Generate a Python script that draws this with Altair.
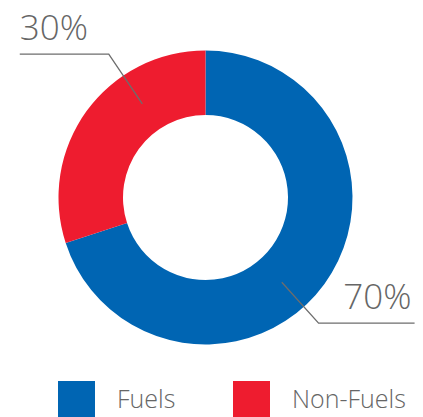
import math
import altair as alt
import pandas as pd

# ---- data ----
categories = ["Fuels", "Non-Fuels"]
shares = [70, 30]
label_texts = ["70%", "30%"]
colors = ["#0065b3", "#ee1c2f"]

# ---- layout constants (pixels, plot-area coordinates) ----
W, H = 407, 409
CX, CY = 197.5, 189.5
R_IN, R_OUT = 82.5, 147
# leader line geometry per label: angle (deg, clockwise from top), r start, r elbow, horizontal run
leader = {
    "70%": dict(angle=138.0, r0=114, r1=169, dx=96, align="right"),
    "30%": dict(angle=326.0, r0=113, r1=173, dx=-89, align="left"),
}

df = pd.DataFrame({"category": categories, "share": shares, "order": list(range(len(categories)))})

rows, trows = [], []
for lab in label_texts:
    g = leader[lab]
    a = math.radians(g["angle"])
    x0, y0 = CX + g["r0"] * math.sin(a), CY - g["r0"] * math.cos(a)
    x1, y1 = CX + g["r1"] * math.sin(a), CY - g["r1"] * math.cos(a)
    x2, y2 = x1 + g["dx"], y1
    for i, (px, py) in enumerate([(x0, y0), (x1, y1), (x2, y2)]):
        rows.append({"label": lab, "step": i, "px": px, "py": py})
    tx = x2 + (-3 if g["align"] == "right" else 0)
    trows.append({"label": lab, "px": tx, "py": y1 - 14, "align": g["align"]})

lines_df = pd.DataFrame(rows)
text_df = pd.DataFrame(trows)

X = alt.X("px:Q", scale=None, axis=None)
Y = alt.Y("py:Q", scale=None, axis=None)

arc = alt.Chart(df).mark_arc(innerRadius=R_IN, outerRadius=R_OUT).encode(
    theta=alt.Theta("share:Q", stack=True),
    color=alt.Color(
        "category:N",
        scale=alt.Scale(domain=categories, range=colors),
        legend=alt.Legend(
            orient="none",
            legendX=50,
            legendY=373,
            direction="horizontal",
            title=None,
            symbolType="square",
            symbolSize=37 * 37,
            symbolStrokeWidth=0,
            symbolOpacity=1,
            labelFont="Open Sans",
            labelFontSize=25,
            labelFontWeight=300,
            labelColor="#666666",
            labelOffset=22,
            columnPadding=57,
            labelLimit=300,
        ),
    ),
    order=alt.Order("order:Q"),
    x=alt.value(CX),
    y=alt.value(CY),
)

lines = alt.Chart(lines_df).mark_line(color="#6d6d6d", strokeWidth=1.3).encode(
    x=X, y=Y, detail="label:N", order="step:Q",
)

t_left = alt.Chart(text_df[text_df["align"] == "left"]).mark_text(
    align="left", baseline="alphabetic", font="Open Sans", fontSize=35, fontWeight=300, color="#666666"
).encode(x=X, y=Y, text="label:N")

t_right = alt.Chart(text_df[text_df["align"] == "right"]).mark_text(
    align="right", baseline="alphabetic", font="Open Sans", fontSize=35, fontWeight=300, color="#666666"
).encode(x=X, y=Y, text="label:N")

chart = (
    alt.layer(arc, lines, t_left, t_right)
    .properties(width=W, height=H, autosize=alt.AutoSizeParams(type="none"), padding=0,
                background="white")
    .configure_view(stroke="transparent", strokeWidth=0)
)

chart.save("out.html", embed_options={"renderer": "svg", "actions": False})
